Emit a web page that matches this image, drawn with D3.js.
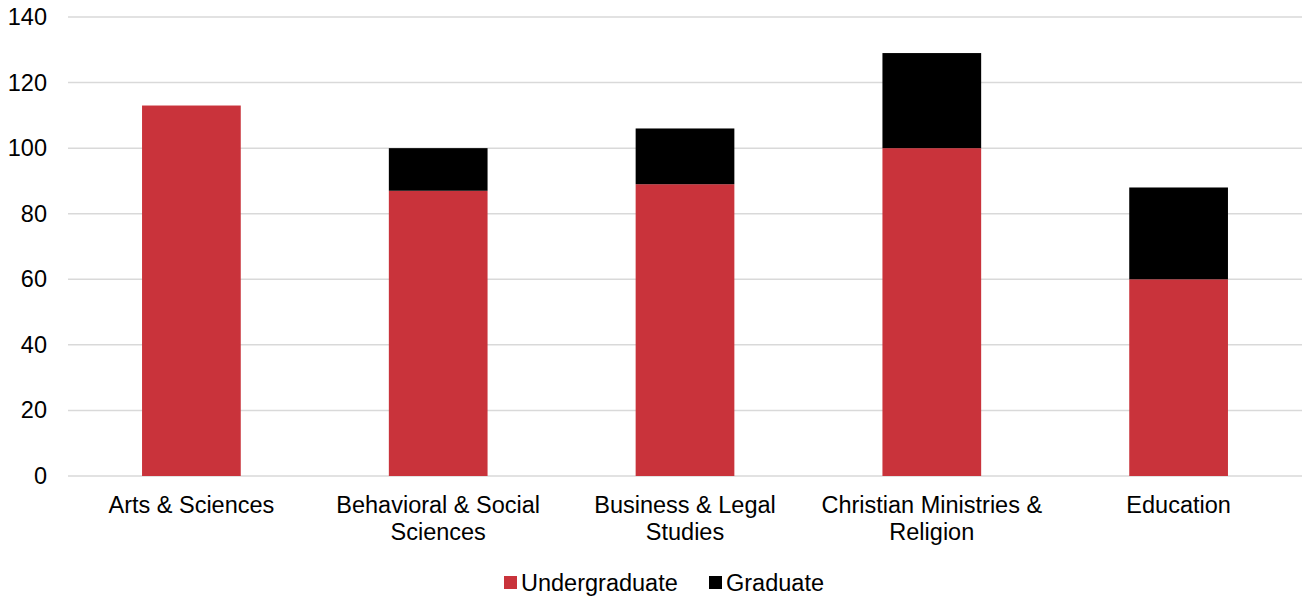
<!DOCTYPE html>
<html>
<head>
<meta charset="utf-8">
<script src="https://cdn.jsdelivr.net/npm/d3@7"></script>
<style>
body{margin:0;background:#fff;}
text{font-family:"Liberation Sans",Arial,sans-serif;fill:#000;}
</style>
</head>
<body>
<svg width="1302" height="599"></svg>
<script>
var categories = [["Arts & Sciences"],["Behavioral & Social","Sciences"],["Business & Legal","Studies"],["Christian Ministries &","Religion"],["Education"]];
var undergrad = [113, 87, 89, 100, 60];
var graduate = [0, 13, 17, 29, 28];
var seriesNames = ["Undergraduate","Graduate"];
var seriesColors = ["#C9333B","#000000"];
var yTicks = [0,20,40,60,80,100,120,140];

var svg = d3.select("svg");
var plotLeft = 68, plotRight = 1302, plotTop = 17, plotBottom = 476;
var fs = "23.5px";

var x = d3.scaleBand()
    .domain(d3.range(categories.length))
    .range([plotLeft,plotRight])
    .paddingInner(0.6)
    .paddingOuter(0.3);
var y = d3.scaleLinear().domain([0,140]).range([plotBottom,plotTop]);

// grid
svg.append("g").selectAll("line")
    .data(yTicks)
    .enter().append("line")
    .attr("x1",plotLeft).attr("x2",plotRight)
    .attr("y1",function(d){return y(d);})
    .attr("y2",function(d){return y(d);})
    .attr("stroke","#d9d9d9")
    .attr("stroke-width",1.5);

// y labels
svg.append("g").selectAll("text")
    .data(yTicks)
    .enter().append("text")
    .attr("x",47)
    .attr("y",function(d){return y(d)+8;})
    .attr("text-anchor","end")
    .attr("font-size",fs)
    .text(function(d){return d;});

var rows = categories.map(function(c,i){return {i:i, u:undergrad[i], g:graduate[i]};});

// bars
var bars = svg.append("g");
bars.selectAll("rect.u")
    .data(rows)
    .enter().append("rect")
    .attr("class","u")
    .attr("x",function(d){return x(d.i);})
    .attr("width",x.bandwidth())
    .attr("y",function(d){return y(d.u);})
    .attr("height",function(d){return y(0)-y(d.u);})
    .attr("fill",seriesColors[0]);
bars.selectAll("rect.g")
    .data(rows.filter(function(d){return d.g>0;}))
    .enter().append("rect")
    .attr("class","g")
    .attr("x",function(d){return x(d.i);})
    .attr("width",x.bandwidth())
    .attr("y",function(d){return y(d.u+d.g);})
    .attr("height",function(d){return y(d.u)-y(d.u+d.g);})
    .attr("fill",seriesColors[1]);

// category labels
var cl = svg.append("g").selectAll("text")
    .data(categories)
    .enter().append("text")
    .attr("x",function(d,i){return x(i)+x.bandwidth()/2;})
    .attr("y",513)
    .attr("text-anchor","middle")
    .attr("font-size",fs);
cl.selectAll("tspan")
    .data(function(d){return d;})
    .enter().append("tspan")
    .attr("x",function(){return d3.select(this.parentNode).attr("x");})
    .attr("dy",function(d,i){return i==0?0:27;})
    .text(function(d){return d;});

// legend
var legX = [504, 709];
var leg = svg.append("g").selectAll("g")
    .data(seriesNames)
    .enter().append("g")
    .attr("transform",function(d,i){return "translate("+legX[i]+",576)";});
leg.append("rect")
    .attr("width",13).attr("height",13)
    .attr("fill",function(d,i){return seriesColors[i];});
leg.append("text")
    .attr("x",17).attr("y",15)
    .attr("font-size",fs)
    .text(function(d){return d;});
</script>
</body>
</html>
